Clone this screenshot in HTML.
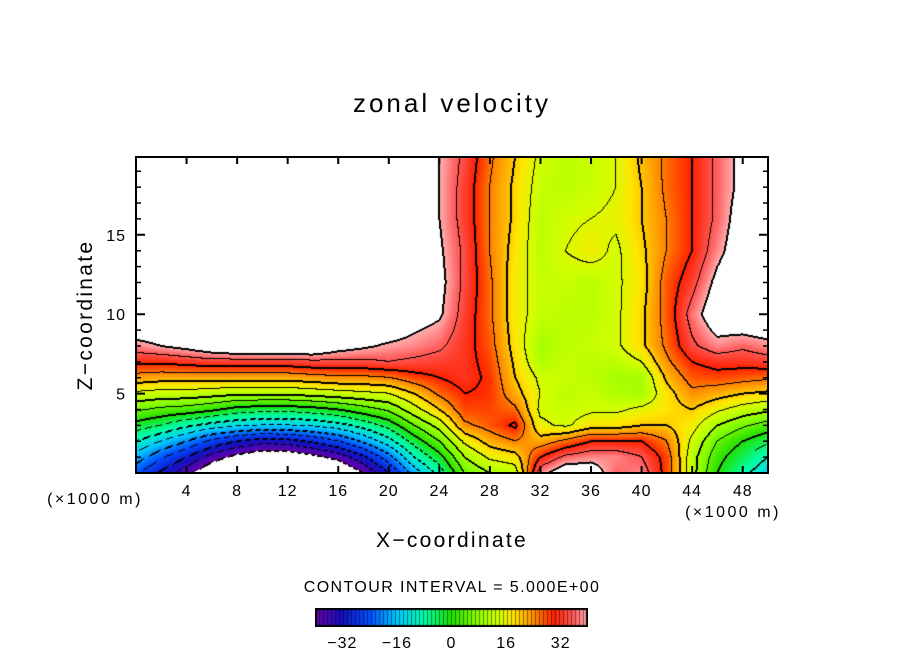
<!DOCTYPE html>
<html><head><meta charset="utf-8">
<style>
body{margin:0;background:#fff;width:904px;height:654px;overflow:hidden;position:relative;font-family:"Liberation Sans",sans-serif}
#plot{position:absolute;left:136px;top:157px}
#cbar{position:absolute;left:315px;top:608px}
svg{position:absolute;left:0;top:0}
</style></head><body>
<canvas id="plot" width="632" height="316"></canvas>
<canvas id="cbar" width="273" height="19"></canvas>
<svg id="ov" width="904" height="654"></svg>
<script>
// grid coordinates (x in 1000 m, z)
const xs=[0,2,4,6,8,10,12,14,16,18,20,22,24,26,28,30,32,34,36,38,40,42,44,46,48,50];
const zs=[0,1,2,3,4,5,6,7,8,10,12,14,16,18,20];
// values per x column, listed over zs
const col0=[-24,-17,-10,-2,6,14,23,31,38,48,48,48,48,48,48];
const col2=[-31,-24,-15,-5,4,13,22,31,40,48,48,48,48,48,48];
const col4=[-38,-30,-20,-9,3,13,22,32,42,48,48,48,48,48,48];
const col6=[-46,-37,-26,-12,1,12,22,33,45,50,50,50,50,50,50];
const col8=[-52,-42,-30,-14,-2,11,22,33,47,50,50,50,50,50,50];
const col10=[-55,-45,-33,-15,-3,11,22,33,48,50,50,50,50,50,50];
const col12=[-55,-45,-32,-15,-3,11,22,33,48,50,50,50,50,50,50];
const col14=[-52,-42,-29,-14,-2,12,23,34,47,50,50,50,50,50,50];
const col16=[-48,-38,-25,-12,0,13,24,34,43,50,50,50,50,50,50];
const col18=[-40,-31,-19,-8,3,14,24,34,41,50,50,50,50,50,50];
const col20=[-30,-22,-12,-3,6,15,25,35,39,48,50,50,50,50,50];
const col22=[-18,-10,-3,5,13,20,28,34,38,43,46,46,46,46,45];
const col24=[-8,-2,5,12,20,26,30,33,36,41,42,41,40,40,40];
const col26=[5,10,16,24,28,30,32,32,32,33,34,34,33,33,34];
const col28=[10,16,22,27,28,29,29,28,27,26,26,25,25,25,26];
const col30=[12,18,25,31,26,22,20,19,18,17,17,18,19,19,20];
const col32=[38,30,22,16,14,15,14,11,10,13,13,12,12,13,14];
const col34=[45,36,26,14,13,12,13,13,12,12,13,15,14,12,12];
const col36=[44,38,30,18,14,13,12,12,13,12,12,17,15,13,13];
const col38=[36,38,30,18,14,11,10,12,14,14,14,14,16,15,15];
const col40=[38,35,30,20,16,10,10,15,19,19,18,19,20,20,21];
const col42=[28,28,25,20,18,18,21,24,26,27,27,25,25,26,26];
const col44=[12,12,14,17,20,24,27,30,34,37,33,30,30,30,30];
const col46=[0,2,5,10,16,22,28,32,38,45,42,38,36,36,36];
const col48=[-8,-4,0,6,13,20,27,32,36,47,47,45,44,42,42];
const col50=[-15,-10,-4,3,11,19,26,33,38,48,48,48,48,48,48];
const cols=[col0,col2,col4,col6,col8,col10,col12,col14,col16,col18,col20,col22,col24,col26,col28,col30,col32,col34,col36,col38,col40,col42,col44,col46,col48,col50];
const xTicks=[4,8,12,16,20,24,28,32,36,40,44,48];
const yTicks=[5,10,15];
const cbTicks=[-32,-16,0,16,32];

const W=632,H=316,X0=0,X1=50,Z0=0,Z1=19.9;
function sx(x){return (x-X0)/(X1-X0)*W;}
function sz(z){return H-(z-Z0)/(Z1-Z0)*H;}
function idx(arr,v){for(let i=0;i<arr.length-2;i++){if(v<arr[i+1])return i;}return arr.length-2;}
function val(x,z){
  const i=idx(xs,x),j=idx(zs,z);
  const tx=(x-xs[i])/(xs[i+1]-xs[i]),tz=(z-zs[j])/(zs[j+1]-zs[j]);
  const a=cols[i][j],b=cols[i+1][j],c=cols[i][j+1],d=cols[i+1][j+1];
  return (a*(1-tx)+b*tx)*(1-tz)+(c*(1-tx)+d*tx)*tz;
}
const stops=[[-40,[106,0,168]],[-32,[20,16,192]],[-24,[0,80,255]],[-16,[0,200,255]],[-8,[0,255,170]],[0,[32,224,0]],[8,[144,255,0]],[14,[210,255,0]],[18,[255,230,0]],[24,[255,144,0]],[30,[255,32,0]],[36,[255,96,96]],[40,[255,176,176]]];
function color(v){
  if(v<=stops[0][0])return stops[0][1];
  for(let k=0;k<stops.length-1;k++){const s0=stops[k],s1=stops[k+1];
    if(v<=s1[0]){const t=(v-s0[0])/(s1[0]-s0[0]);return [0,1,2].map(q=>s0[1][q]+(s1[1][q]-s0[1][q])*t);}}
  return stops[stops.length-1][1];
}
const cv=document.getElementById('plot'),ctx=cv.getContext('2d');
const img=ctx.createImageData(W,H);
const F=new Float32Array(W*H);
for(let py=0;py<H;py++)for(let px=0;px<W;px++){
  const x=X0+(px+0.5)/W*(X1-X0),z=Z0+(H-py-0.5)/H*(Z1-Z0);
  F[py*W+px]=val(x,z);
}
for(let py=0;py<H;py++)for(let px=0;px<W;px++){
  const v=F[py*W+px],o=(py*W+px)*4;
  let c=(v>40||v<-40)?[255,255,255]:color(v);
  const L=Math.floor(v/5);
  let line=false;
  const nb=[[1,0],[0,1],[-1,0],[0,-1]];
  for(const [dx,dy] of nb){const qx=px+dx,qy=py+dy;if(qx<0||qy<0||qx>=W||qy>=H)continue;
    const L2=Math.floor(F[qy*W+qx]/5);
    if(L2!==L){const lev=Math.max(L,L2)*5;
      if(lev>=-40&&lev<=40){ if(dx>0||dy>0||(lev%10===0)){line=true; if(lev<0&&((px+py)%8)>=5)line=false;}}}}
  if(line)c=[0,0,0];
  img.data[o]=c[0];img.data[o+1]=c[1];img.data[o+2]=c[2];img.data[o+3]=255;
}
ctx.putImageData(img,0,0);
const cb=document.getElementById('cbar').getContext('2d');
for(let px=0;px<273;px++){const v=-40+(px+0.5)/273*80;const c=color(v);
  cb.fillStyle=`rgb(${c[0]|0},${c[1]|0},${c[2]|0})`;cb.fillRect(px,0,1,19);
  if(px%4===0){cb.fillStyle='rgba(0,0,0,0.45)';cb.fillRect(px,0,1,19);}}
cb.strokeStyle='#000';cb.lineWidth=2;cb.strokeRect(1,1,271,17);
const NS='http://www.w3.org/2000/svg',ov=document.getElementById('ov');
function el(t,a,txt){const e=document.createElementNS(NS,t);for(const k in a)e.setAttribute(k,a[k]);if(txt!==undefined)e.textContent=txt;ov.appendChild(e);return e;}
const L0=136,T0=157;
const fr=el('rect',{x:L0,y:T0,width:W,height:H,fill:'none',stroke:'#000','stroke-width':2});


for(const t of xTicks){const X=L0+sx(t);
  const tk=el('path',{d:`M${X} ${T0+H}v-7M${X} ${T0}v7`,stroke:'#000','stroke-width':2});
  
  
  const lb=el('text',{x:X,y:496,'text-anchor':'middle','font-size':16,'letter-spacing':1},String(t));
  
  }
for(let z=1;z<20;z++){const Y=T0+sz(z),len=(z%5===0)?9:5;
  const tk=el('path',{d:`M${L0} ${Y}h${len}M${L0+W} ${Y}h-${len}`,stroke:'#000','stroke-width':(z%5===0)?2:1.5});
  
  }
for(const t of yTicks){const lb=el('text',{x:126,y:T0+sz(t)+6,'text-anchor':'end','font-size':16,'letter-spacing':1},String(t));
  
  }
for(const t of cbTicks){const lb=el('text',{x:315+(t+40)/80*273,y:648,'text-anchor':'middle','font-size':16,'letter-spacing':1},(t<0?'\u2212':'')+Math.abs(t));
  
  }
</script>
<svg width="904" height="654" style="position:absolute;left:0;top:0">
<g font-family="Liberation Sans, sans-serif" fill="#000">
<text x="452" y="112" text-anchor="middle" font-size="26" letter-spacing="3">zonal velocity</text>
<text x="452" y="547" text-anchor="middle" font-size="21" letter-spacing="2.3">X−coordinate</text>
<text transform="translate(92,315) rotate(-90)" text-anchor="middle" font-size="21" letter-spacing="2.3">Z−coordinate</text>
<text x="95" y="504" text-anchor="middle" font-size="16" letter-spacing="2.5">(×1000 m)</text>
<text x="733" y="517" text-anchor="middle" font-size="16" letter-spacing="2.5">(×1000 m)</text>
<text x="452" y="592" text-anchor="middle" font-size="16" letter-spacing="1.4">CONTOUR INTERVAL = 5.000E+00</text>
</g></svg>
</body></html>
